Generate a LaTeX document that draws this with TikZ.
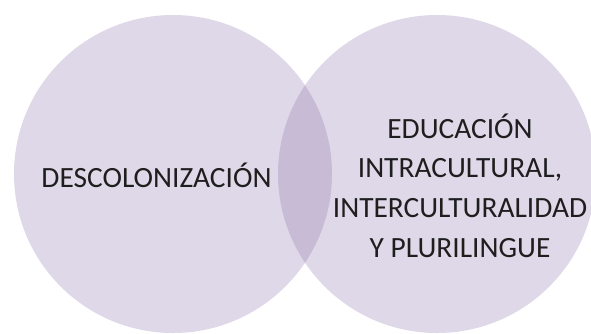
\documentclass[tikz,border=0pt]{standalone}
\usepackage{fontspec}
\setmainfont{Carlito}
\usepackage{tikz}
\definecolor{lila}{RGB}{128,100,162}
\definecolor{texto}{RGB}{30,30,30}

\begin{document}
\begin{tikzpicture}[line cap=round,line join=round,x=1pt,y=-1pt]
\useasboundingbox (0,0) rectangle (591,333);
\fill[lila,fill opacity=0.25] (173,174) circle (159pt);
\fill[lila,fill opacity=0.25] (437,174) circle (159pt);
\draw (156.5,187.5) node[anchor=base,text=texto,font=\fontsize{29.4}{39.6}\selectfont] (desc) {DESCOLONIZACIÓN};
\draw (460,257) node[anchor=base,align=center,text=texto,font=\fontsize{29.4}{39.6}\selectfont] (edu) {EDUCACIÓN\\INTRACULTURAL,\\INTERCULTURALIDAD\\Y PLURILINGUE};
\end{tikzpicture}
\end{document}
